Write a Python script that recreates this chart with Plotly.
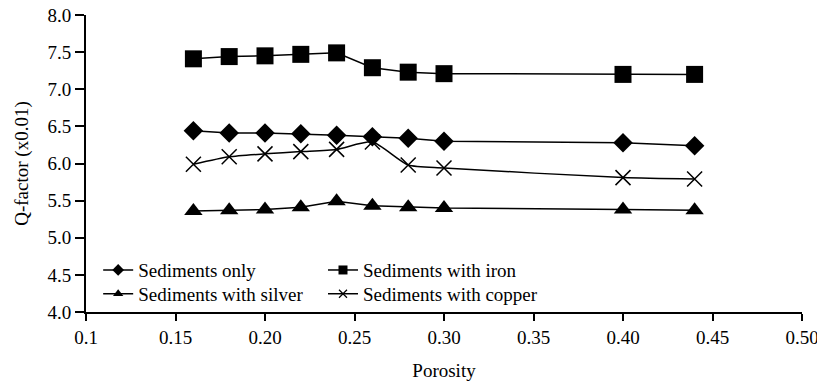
import plotly.graph_objects as go

porosity = [0.16, 0.18, 0.20, 0.22, 0.24, 0.26, 0.28, 0.30, 0.40, 0.44]
sed_only = [6.44, 6.41, 6.41, 6.40, 6.38, 6.36, 6.34, 6.30, 6.28, 6.24]
sed_iron = [7.41, 7.44, 7.45, 7.47, 7.49, 7.29, 7.23, 7.21, 7.20, 7.20]
sed_silver = [5.36, 5.37, 5.38, 5.41, 5.49, 5.43, 5.41, 5.40, 5.38, 5.37]
sed_copper = [5.99, 6.09, 6.13, 6.16, 6.19, 6.29, 5.98, 5.94, 5.81, 5.79]

x_tickvals = [0.1, 0.15, 0.2, 0.25, 0.3, 0.35, 0.4, 0.45, 0.5]
x_ticktext = ["0.1", "0.15", "0.20", "0.25", "0.30", "0.35", "0.40", "0.45", "0.50"]
y_tickvals = [4.0, 4.5, 5.0, 5.5, 6.0, 6.5, 7.0, 7.5, 8.0]
y_ticktext = ["4.0", "4.5", "5.0", "5.5", "6.0", "6.5", "7.0", "7.5", "8.0"]

FONT = "Times New Roman, Liberation Serif, serif"
FS = 19

series = [
    # name, values, symbol, size, legend size, legend id, line shape
    ("Sediments only", sed_only, "diamond", 15, 9, "legend", "linear"),
    ("Sediments with iron", sed_iron, "square", 17, 9, "legend2", "linear"),
    ("Sediments with silver", sed_silver, "triangle-up", 16, 9, "legend3", "linear"),
    ("Sediments with copper", sed_copper, "x-thin", 15, 8, "legend4", "spline"),
]

fig = go.Figure()
for name, vals, sym, size, lsize, leg, shape in series:
    line = dict(color="black", width=1.5, shape=shape)
    if shape == "spline":
        line["smoothing"] = 0.6
    mk = dict(symbol=sym, size=size, color="black", line=dict(color="black", width=1.5 if sym == "x-thin" else 0))
    fig.add_trace(go.Scatter(x=porosity, y=vals, name=name, mode="lines+markers",
                             line=line, marker=mk, showlegend=False))
    # legend entry with the small legend symbol
    lmk = dict(symbol=sym, size=lsize, color="black", line=dict(color="black", width=1.2 if sym == "x-thin" else 0))
    fig.add_trace(go.Scatter(x=[None], y=[None], name=name, mode="lines+markers",
                             line=dict(color="black", width=1.5), marker=lmk,
                             showlegend=True, legend=leg))

legend_common = dict(bgcolor="rgba(0,0,0,0)", font=dict(family=FONT, size=FS, color="black"),
                     yanchor="middle", xanchor="left", tracegroupgap=0, itemwidth=30)
row1_y, row2_y = 0.141, 0.061
col1_x, col2_x = 0.017, 0.331
fig.update_layout(
    width=817, height=383,
    margin=dict(l=86, r=15, t=15, b=71),
    paper_bgcolor="white", plot_bgcolor="white",
    font=dict(family=FONT, size=FS, color="black"),
    legend=dict(x=col1_x, y=row1_y, **legend_common),
    legend2=dict(x=col2_x, y=row1_y, **legend_common),
    legend3=dict(x=col1_x, y=row2_y, **legend_common),
    legend4=dict(x=col2_x, y=row2_y, **legend_common),
    xaxis=dict(range=[0.1, 0.5], tickvals=x_tickvals, ticktext=x_ticktext, automargin=False,
               showline=True, linecolor="black", linewidth=2, ticks="outside",
               ticklen=7, tickwidth=2, tickcolor="black", showgrid=False, zeroline=False,
               ticklabeloverflow="allow",
               title=dict(text="Porosity", font=dict(family=FONT, size=FS), standoff=17),
               tickfont=dict(family=FONT, size=FS)),
    yaxis=dict(range=[4.0, 8.0], tickvals=y_tickvals, ticktext=y_ticktext, automargin=False,
               showline=True, linecolor="black", linewidth=2, ticks="outside",
               ticklen=9, tickwidth=2, tickcolor="black", showgrid=False, zeroline=False,
               ticklabeloverflow="allow",
               title=dict(text="Q-factor (x0.01)", font=dict(family=FONT, size=FS), standoff=14),
               tickfont=dict(family=FONT, size=FS)),
)
fig.write_html("out.html", config={"displayModeBar": False},
               post_script="document.body.style.margin='0';document.body.style.overflow='hidden';")
